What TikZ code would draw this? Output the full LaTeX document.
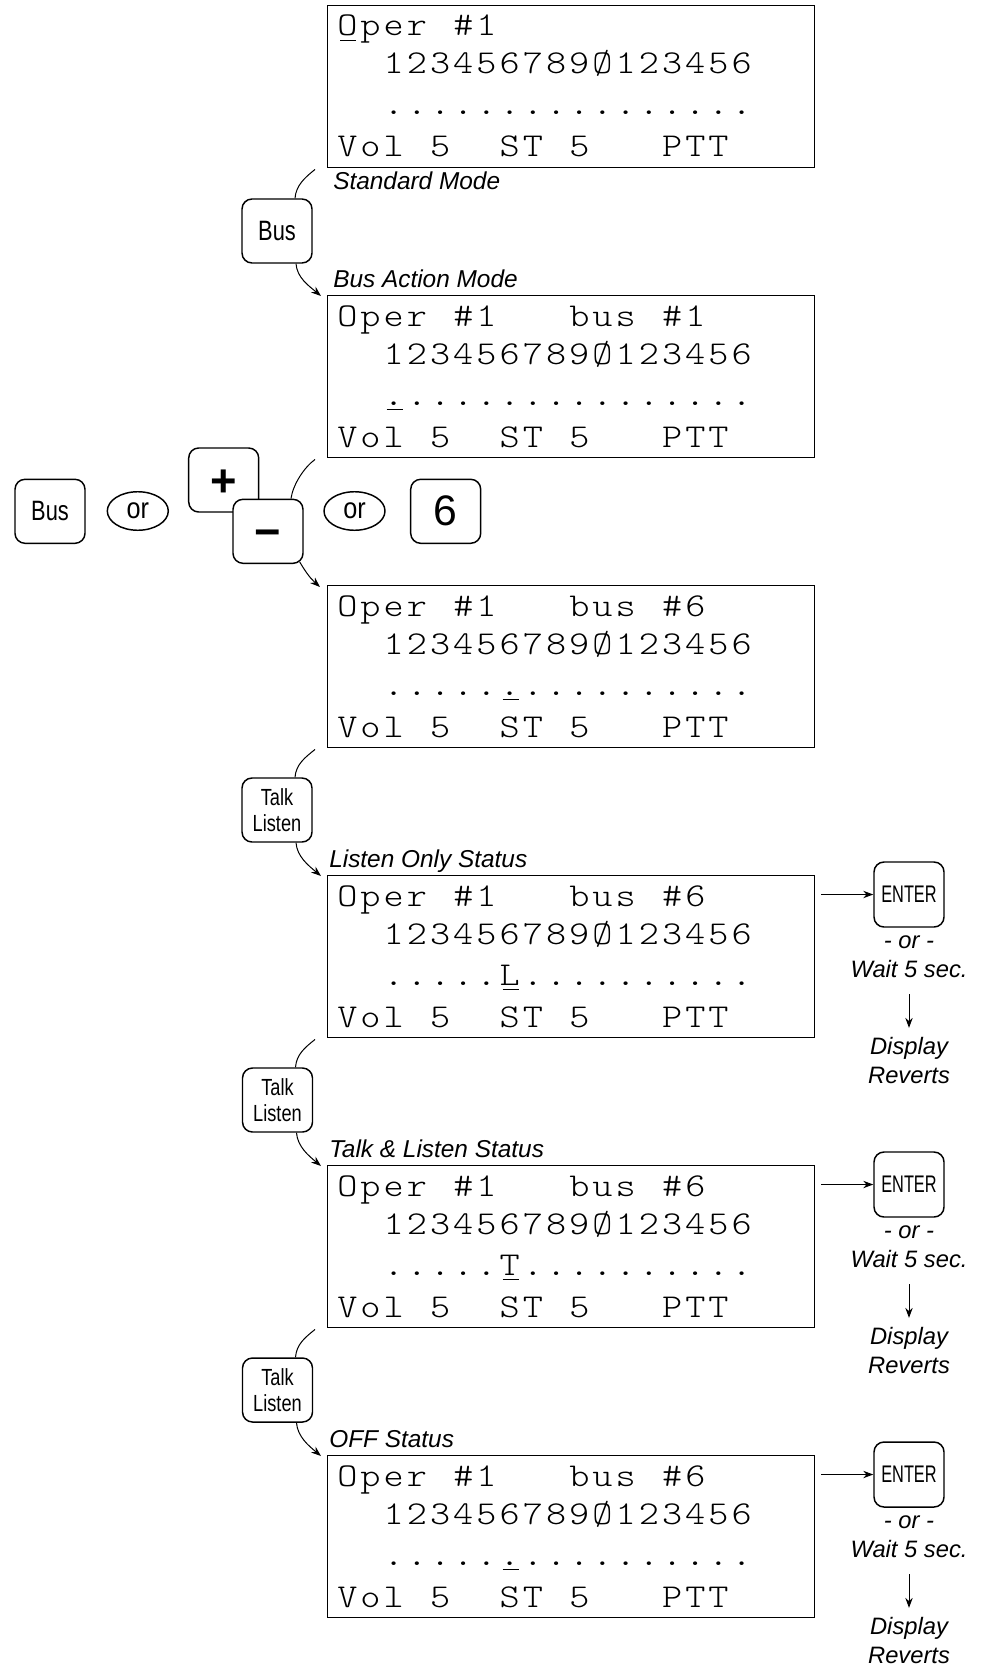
\documentclass[tikz,border=0pt]{standalone}
\usepackage{fontspec}
\setmainfont{Liberation Sans}
\newfontfamily\lcdfont[FakeStretch=1.15]{Latin Modern Mono Light}
\newfontfamily\keyfont[FakeStretch=0.78]{Liberation Sans}
\newfontfamily\orfont[FakeStretch=0.86]{Liberation Sans}
\newfontfamily\enterfont[FakeStretch=0.68]{Liberation Sans}
\usetikzlibrary{arrows.meta,calc,shapes.geometric}

% fixed-pitch row of display characters; {} is an empty cell
\makeatletter
\newcommand\lcdstr[1]{\@tfor\lcd@c:=#1\do{\makebox[17.4pt][l]{\lcd@c}}}
\makeatother
% cursor: a character with a short bar under it
\newcommand\lcdul[1]{\rlap{\hspace{2.2pt}\rule[-4pt]{12pt}{0.9pt}}#1}

\tikzset{
  lcdbox/.style={draw, line width=1.1pt, minimum width=365.25pt, minimum height=121.5pt,
                 inner sep=0pt, anchor=north west},
  lcdrow/.style={anchor=base west, inner sep=0pt,
                 font=\fontsize{25pt}{25pt}\selectfont\lcdfont},
  keybox/.style={draw, line width=1.1pt, rounded corners=7.5pt, fill=white,
                 minimum width=52.5pt, minimum height=48pt, inner sep=0pt},
  bustext/.style={font=\fontsize{21pt}{21pt}\selectfont\keyfont},
  talktext/.style={align=center, font=\fontsize{17.5pt}{19pt}\selectfont\keyfont},
  entertext/.style={font=\fontsize{18pt}{18pt}\selectfont\enterfont},
  orbox/.style={draw, line width=1.1pt, ellipse, minimum width=45.75pt, minimum height=28.9pt,
                inner sep=0pt, font=\fontsize{22pt}{22pt}\selectfont\orfont},
  signtext/.style={font=\fontsize{34pt}{34pt}\selectfont\bfseries, text height=24pt, text depth=0pt},
  caption/.style={anchor=base west, inner sep=0pt, font=\fontsize{18.3pt}{18.3pt}\selectfont\itshape},
  note/.style={anchor=base, inner sep=0pt, font=\fontsize{17.8pt}{17.8pt}\selectfont\itshape},
  link/.style={line width=0.75pt},
  arr/.style={line width=0.75pt, -{Stealth[length=7.5pt,width=5.5pt]}},
}

\begin{document}
\begin{tikzpicture}[x=0.75pt, y=-0.75pt]
\useasboundingbox (0,0) rectangle (984,1669);

% ---------- displays ----------
\node[lcdbox] (d1) at (327,5) {};
\node[lcdrow] (d1a) at (337,36)  {\lcdstr{{\lcdul{O}}per{}\#1}};
\node[lcdrow] (d1b) at (337,74)  {\lcdstr{{}{}123456789Ø123456}};
\node[lcdrow] (d1c) at (337,115) {\lcdstr{{}{}................}};
\node[lcdrow] (d1d) at (337,157) {\lcdstr{Vol{}5{}{}ST{}5{}{}{}PTT}};

\node[lcdbox] (d2) at (327,295) {};
\node[lcdrow] (d2a) at (337,326) {\lcdstr{Oper{}\#1{}{}{}bus{}\#1}};
\node[lcdrow] (d2b) at (337,364) {\lcdstr{{}{}123456789Ø123456}};
\node[lcdrow] (d2c) at (337,405) {\lcdstr{{}{}{\lcdul{.}}...............}};
\node[lcdrow] (d2d) at (337,447) {\lcdstr{Vol{}5{}{}ST{}5{}{}{}PTT}};

\node[lcdbox] (d3) at (327,585) {};
\node[lcdrow] (d3a) at (337,616) {\lcdstr{Oper{}\#1{}{}{}bus{}\#6}};
\node[lcdrow] (d3b) at (337,654) {\lcdstr{{}{}123456789Ø123456}};
\node[lcdrow] (d3c) at (337,695) {\lcdstr{{}{}.....{\lcdul{.}}..........}};
\node[lcdrow] (d3d) at (337,737) {\lcdstr{Vol{}5{}{}ST{}5{}{}{}PTT}};

\node[lcdbox] (d4) at (327,875) {};
\node[lcdrow] (d4a) at (337,906)  {\lcdstr{Oper{}\#1{}{}{}bus{}\#6}};
\node[lcdrow] (d4b) at (337,944)  {\lcdstr{{}{}123456789Ø123456}};
\node[lcdrow] (d4c) at (337,985)  {\lcdstr{{}{}.....{\lcdul{L}}..........}};
\node[lcdrow] (d4d) at (337,1027) {\lcdstr{Vol{}5{}{}ST{}5{}{}{}PTT}};

\node[lcdbox] (d5) at (327,1165) {};
\node[lcdrow] (d5a) at (337,1196) {\lcdstr{Oper{}\#1{}{}{}bus{}\#6}};
\node[lcdrow] (d5b) at (337,1234) {\lcdstr{{}{}123456789Ø123456}};
\node[lcdrow] (d5c) at (337,1275) {\lcdstr{{}{}.....{\lcdul{T}}..........}};
\node[lcdrow] (d5d) at (337,1317) {\lcdstr{Vol{}5{}{}ST{}5{}{}{}PTT}};

\node[lcdbox] (d6) at (327,1455) {};
\node[lcdrow] (d6a) at (337,1486) {\lcdstr{Oper{}\#1{}{}{}bus{}\#6}};
\node[lcdrow] (d6b) at (337,1524) {\lcdstr{{}{}123456789Ø123456}};
\node[lcdrow] (d6c) at (337,1565) {\lcdstr{{}{}.....{\lcdul{.}}..........}};
\node[lcdrow] (d6d) at (337,1607) {\lcdstr{Vol{}5{}{}ST{}5{}{}{}PTT}};

% ---------- captions ----------
\node[caption] (cap1) at (333,190)  {Standard Mode};
\node[caption] (cap2) at (333,287)  {Bus Action Mode};
\node[caption] (cap4) at (329,867)  {Listen Only Status};
\node[caption] (cap5) at (329,1157) {Talk \& Listen Status};
\node[caption] (cap6) at (329,1447) {OFF Status};

% ---------- keys ----------
\node[keybox, bustext] (bus1) at (277,231) {Bus};
\node[keybox, talktext] (talk1) at (277,810)  {Talk\\Listen};
\node[keybox, talktext] (talk2) at (277.5,1100) {Talk\\Listen};
\node[keybox, talktext] (talk3) at (277.5,1390) {Talk\\Listen};

\node[keybox, bustext] (busL) at (50,511.3) {Bus};
\node[orbox] (or1) at (137.8,511) {or};
\node[keybox, signtext] (plus) at (223.7,480) {+};
\node[keybox, signtext] (minus) at (268,531.3) {−};
\node[orbox] (or2) at (354.5,511) {or};
\node[keybox, font=\fontsize{32pt}{32pt}\selectfont] (six) at (445.7,511.3) {6};

% ---------- key-press connectors ----------
\draw[link] ($(d1.south west)+(-12,1)$) .. controls +(-10,8) and +(1,-13) .. ($(bus1.north)+(18,0)$);
\draw[arr]  ($(bus1.south)+(19,0)$) .. controls +(1,14) and +(-12,-10) .. ($(d2.north west)+(-6,1)$);

\draw[link] ($(d2.south west)+(-12,1)$) .. controls +(-11,8) and +(2,-14) .. ($(minus.north)+(23,0)$);
\draw[arr]  ($(minus.south east)+(-4,-2)$) .. controls +(6,10) and +(-10,-9) .. ($(d3.north west)+(-7,2)$);

\draw[link] ($(d3.south west)+(-12,1)$) .. controls +(-10,8) and +(1,-13) .. ($(talk1.north)+(18,0)$);
\draw[arr]  ($(talk1.south)+(19,0)$) .. controls +(1,14) and +(-12,-10) .. ($(d4.north west)+(-6,1)$);

\draw[link] ($(d4.south west)+(-12,1)$) .. controls +(-10,8) and +(1,-13) .. ($(talk2.north)+(18,0)$);
\draw[arr]  ($(talk2.south)+(19,0)$) .. controls +(1,14) and +(-12,-10) .. ($(d5.north west)+(-6,1)$);

\draw[link] ($(d5.south west)+(-12,1)$) .. controls +(-10,8) and +(1,-13) .. ($(talk3.north)+(18,0)$);
\draw[arr]  ($(talk3.south)+(19,0)$) .. controls +(1,14) and +(-12,-10) .. ($(d6.north west)+(-6,1)$);

% ---------- ENTER / timeout branches ----------
\foreach \d/\t in {4/875, 5/1165, 6/1455}{
  \node[keybox, entertext, minimum height=48.75pt] (ent\d) at (909,\t+19.5) {ENTER};
  \draw[arr, shorten <=4.5pt] (d\d.east |- ent\d.west) -- (ent\d.west);
  \node[note] (or\d)   at (909,\t+73.5) {- or -};
  \node[note] (wait\d) at (909,\t+102)  {Wait 5 sec.};
  \node[note] (disp\d) at (909,\t+179)  {Display};
  \node[note] (rev\d)  at (909,\t+208)  {Reverts};
  \draw[arr, shorten <=12.5pt, shorten >=6.5pt] (wait\d.south) -- (disp\d.north);
}
\end{tikzpicture}
\end{document}
